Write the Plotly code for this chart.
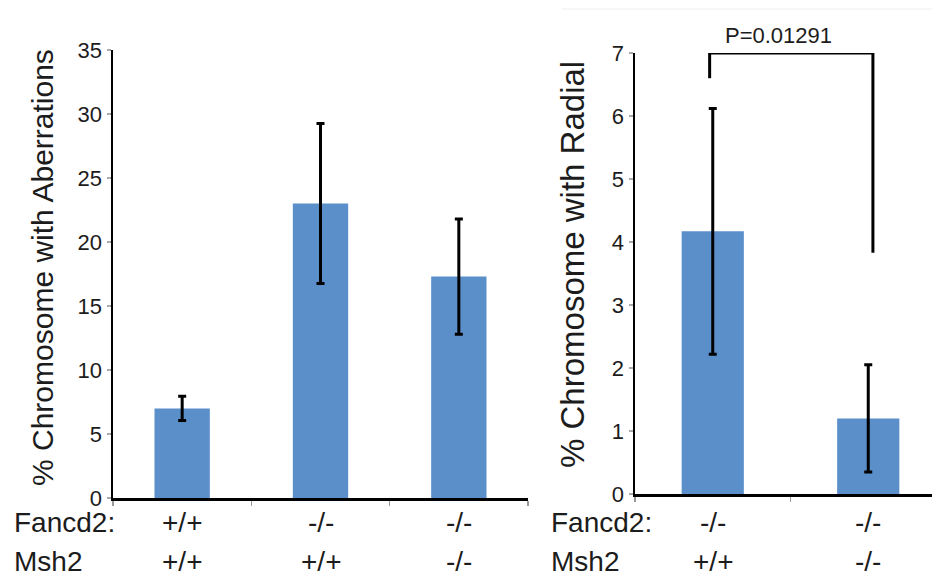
import plotly.graph_objects as go

# ---- data ----
left_fancd2 = ["+/+", "-/-", "-/-"]
left_msh2 = ["+/+", "+/+", "-/-"]
left_values = [7.0, 23.0, 17.3]
left_errors = [0.95, 6.25, 4.5]
left_yticks = [0, 5, 10, 15, 20, 25, 30, 35]

right_fancd2 = ["-/-", "-/-"]
right_msh2 = ["+/+", "-/-"]
right_values = [4.17, 1.2]
right_errors = [1.95, 0.85]
right_yticks = [0, 1, 2, 3, 4, 5, 6, 7]

p_text = "P=0.01291"
bracket_top = 7.0
bracket_left_end = 6.6
bracket_right_end = 3.83

BAR = "#5b8fca"
FONT = "Liberation Sans, Arial, sans-serif"
TXT = "#1c1c1c"

fig = go.Figure()

fig.add_trace(go.Bar(
    x=list(range(len(left_values))), y=left_values, width=0.4,
    marker=dict(color=BAR, line=dict(width=0)),
    error_y=dict(type="data", array=left_errors, color="black", thickness=3, width=4),
    xaxis="x", yaxis="y", showlegend=False, hoverinfo="skip"))

fig.add_trace(go.Bar(
    x=list(range(len(right_values))), y=right_values, width=0.4,
    marker=dict(color=BAR, line=dict(width=0)),
    error_y=dict(type="data", array=right_errors, color="black", thickness=3, width=4),
    xaxis="x2", yaxis="y2", showlegend=False, hoverinfo="skip"))

common_x = dict(showgrid=False, zeroline=False, showline=True, linecolor="black",
                linewidth=2.5, ticks="outside", ticklen=5, tickcolor="#999999",
                tickwidth=1.5, showticklabels=False, automargin=False)
common_y = dict(showgrid=False, zeroline=False, showline=True, linecolor="black",
                linewidth=2.5, ticks="outside", ticklen=4, tickcolor="#aaaaaa",
                tickwidth=1.5, tickfont=dict(family=FONT, size=22, color=TXT),
                automargin=False)

n_left = len(left_values)
fig.update_layout(
    template="none",
    width=932, height=576, autosize=False,
    margin=dict(l=0, r=0, t=0, b=0, pad=0),
    paper_bgcolor="white", plot_bgcolor="white",
    xaxis=dict(domain=[113/932, 528/932], range=[-0.5, n_left - 0.5],
               tickvals=[i - 0.5 for i in range(n_left + 1)], **common_x),
    yaxis=dict(domain=[(576-498)/576, (576-50)/576], range=[0, 35],
               tickvals=left_yticks, anchor="x", **common_y),
    xaxis2=dict(domain=[635/932, 1.0], range=[-0.5, 1.41],
                tickvals=[-0.5, 0.5, 1.5], anchor="y2", **common_x),
    yaxis2=dict(domain=[(576-494)/576, (576-53)/576], range=[0, 7],
                tickvals=right_yticks, anchor="x2", **common_y),
)

annotations = []
# y-axis titles
annotations.append(dict(text="% Chromosome with Aberrations", x=42/932, y=(576-268)/576,
                        xref="paper", yref="paper", textangle=-90, showarrow=False,
                        font=dict(family=FONT, size=30, color=TXT),
                        xanchor="center", yanchor="middle"))
annotations.append(dict(text="% Chromosome with Radial", x=572/932, y=(576-265)/576,
                        xref="paper", yref="paper", textangle=-90, showarrow=False,
                        font=dict(family=FONT, size=33, color=TXT),
                        xanchor="center", yanchor="middle"))

row1_y = (576-522)/576
row2_y = (576-561)/576
lab_font = dict(family=FONT, size=28, color=TXT)
# row headers
for xpx in (12, 549):
    annotations.append(dict(text="Fancd2:", x=xpx/932, y=row1_y, xref="paper", yref="paper",
                            showarrow=False, xanchor="left", yanchor="middle", font=lab_font))
    annotations.append(dict(text="Msh2", x=xpx/932, y=row2_y, xref="paper", yref="paper",
                            showarrow=False, xanchor="left", yanchor="middle", font=lab_font))
for i, (f, m) in enumerate(zip(left_fancd2, left_msh2)):
    annotations.append(dict(text=f, x=i, y=row1_y, xref="x", yref="paper", showarrow=False,
                            xanchor="center", yanchor="middle", font=lab_font))
    annotations.append(dict(text=m, x=i, y=row2_y, xref="x", yref="paper", showarrow=False,
                            xanchor="center", yanchor="middle", font=lab_font))
for i, (f, m) in enumerate(zip(right_fancd2, right_msh2)):
    annotations.append(dict(text=f, x=i, y=row1_y, xref="x2", yref="paper", showarrow=False,
                            xanchor="center", yanchor="middle", font=lab_font))
    annotations.append(dict(text=m, x=i, y=row2_y, xref="x2", yref="paper", showarrow=False,
                            xanchor="center", yanchor="middle", font=lab_font))

# p-value text
annotations.append(dict(text=p_text, x=0.42, y=bracket_top, xref="x2", yref="y2",
                        showarrow=False, xanchor="center", yanchor="bottom", yshift=3,
                        font=dict(family=FONT, size=22, color=TXT)))
fig.update_layout(annotations=annotations)

# significance bracket
bx0, bx1 = -0.02, 1.03
fig.add_shape(type="line", xref="x2", yref="y2", x0=bx0, x1=bx0, y0=bracket_left_end, y1=bracket_top,
              line=dict(color="black", width=3))
fig.add_shape(type="line", xref="x2", yref="y2", x0=bx0, x1=bx1, y0=bracket_top, y1=bracket_top,
              line=dict(color="black", width=3))
fig.add_shape(type="line", xref="x2", yref="y2", x0=bx1, x1=bx1, y0=bracket_right_end, y1=bracket_top,
              line=dict(color="black", width=3))
# faint crop line at top right
fig.add_shape(type="line", xref="paper", yref="paper", x0=562/932, x1=1.0,
              y0=(576-9)/576, y1=(576-9)/576, line=dict(color="#eeeeee", width=1))

fig.write_html("out.html", config={"displayModeBar": False, "staticPlot": True},
               post_script="document.body.style.margin='0';document.body.style.padding='0';")
